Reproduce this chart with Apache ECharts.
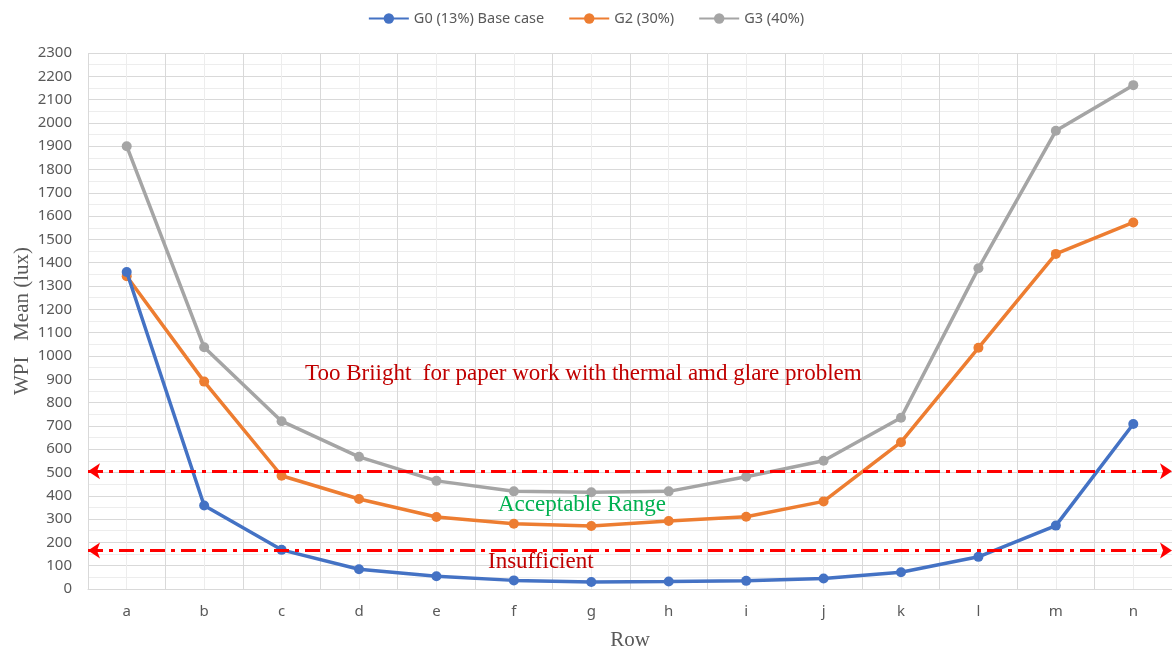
<!DOCTYPE html>
<html>
<head>
<meta charset="utf-8">
<script src="https://cdn.jsdelivr.net/npm/echarts@6/dist/echarts.min.js"></script>
<style>
    html, body { margin: 0; padding: 0; background: #fff; }
    #chart { width: 1172px; height: 652px; }
</style>
</head>
<body>
<div id="chart"></div>
<script>
// ---------------- DATA ----------------
const rows = ['a', 'b', 'c', 'd', 'e', 'f', 'g', 'h', 'i', 'j', 'k', 'l', 'm', 'n'];
const g0 = [1360, 358, 168, 85, 55, 37, 30, 32, 35, 45, 72, 138, 272, 708];
const g2 = [1342, 890, 486, 386, 309, 280, 270, 292, 310, 376, 630, 1035, 1438, 1573];
const g3 = [1900, 1037, 720, 567, 464, 419, 415, 419, 482, 550, 735, 1376, 1966, 2162];
const thresholds = [505, 165];

const seriesNames = ['G0 (13%) Base case', 'G2 (30%)', 'G3 (40%)'];
const seriesColors = ['#4472c4', '#ed7d31', '#a5a5a5'];

let chart = echarts.init(document.getElementById('chart'));

function line_series(name, data, color, extra) {
    return Object.assign({
        name: name,
        type: 'line',
        data: data,
        symbol: 'circle',
        symbolSize: 10,
        lineStyle: { width: 3.5, color: color },
        itemStyle: { color: color },
        animation: false
    }, extra || {});
}

const serif = '"Liberation Serif", "DejaVu Serif", serif';

chart.setOption({
    backgroundColor: '#fff',
    legend: {
        top: 6,
        left: 'center',
        itemWidth: 40,
        itemHeight: 13,
        itemGap: 24,
        textStyle: { color: '#595959', fontSize: 14.5, fontFamily: 'Noto Sans' },
        data: seriesNames
    },
    grid: { left: 88, right: 0, top: 53, bottom: 63, containLabel: false, outerBoundsMode: 'none' },
    xAxis: [{
        type: 'category',
        data: rows,
        boundaryGap: true,
        axisLine: { lineStyle: { color: '#d9d9d9', width: 1 } },
        axisTick: { show: false },
        axisLabel: { color: '#595959', fontSize: 15, margin: 15, fontFamily: 'Noto Sans' },
        splitLine: { show: false },
        name: 'Row',
        nameLocation: 'middle',
        nameGap: 41,
        nameTextStyle: { color: '#595959', fontSize: 21, fontFamily: serif }
    }, {
        // helper axis: gridlines at category edges (dark) and centres (light)
        type: 'value',
        position: 'bottom',
        min: 0,
        max: rows.length * 2,
        interval: 1,
        axisLine: { show: false },
        axisTick: { show: false },
        axisLabel: { show: false },
        splitLine: { show: true, lineStyle: { color: ['#d9d9d9', '#ededed'], width: 1 } }
    }],
    yAxis: {
        type: 'value',
        min: 0,
        max: 2300,
        interval: 100,
        axisLine: { show: false },
        axisTick: { show: false },
        axisLabel: {
            color: '#595959', fontSize: 15, margin: 16, fontFamily: 'Noto Sans',
            formatter: v => String(v)
        },
        splitLine: { show: true, lineStyle: { color: '#d9d9d9', width: 1 } },
        minorTick: { show: false, splitNumber: 2 },
        minorSplitLine: { show: true, lineStyle: { color: '#ededed', width: 1 } },
        name: 'WPI   Mean (lux)',
        nameLocation: 'middle',
        nameGap: 55,
        nameMoveOverlap: false,
        nameTextStyle: { color: '#595959', fontSize: 21, fontFamily: serif }
    },
    series: [
        line_series(seriesNames[0], g0, seriesColors[0], {
            z: 4,
            markLine: {
                silent: true,
                animation: false,
                symbol: ['arrow', 'arrow'],
                symbolSize: [12, 12],
                label: { show: false },
                lineStyle: { color: '#ff0000', width: 3, type: [15, 6, 4, 6] },
                emphasis: { disabled: true },
                data: thresholds.map(v => ({ yAxis: v }))
            }
        }),
        line_series(seriesNames[1], g2, seriesColors[1], { z: 3 }),
        line_series(seriesNames[2], g3, seriesColors[2], { z: 2 })
    ],
    graphic: [
        {
            type: 'text', left: 305, top: 362, z: 100,
            style: { text: 'Too Briight  for paper work with thermal amd glare problem', fill: '#c00000', font: '23px ' + serif }
        },
        {
            type: 'text', left: 498, top: 493, z: 100,
            style: { text: 'Acceptable Range', fill: '#00b050', font: '23px ' + serif }
        },
        {
            type: 'text', left: 488, top: 550, z: 100,
            style: { text: 'Insufficient', fill: '#c00000', font: '23px ' + serif }
        }
    ]
});
</script>
</body>
</html>
